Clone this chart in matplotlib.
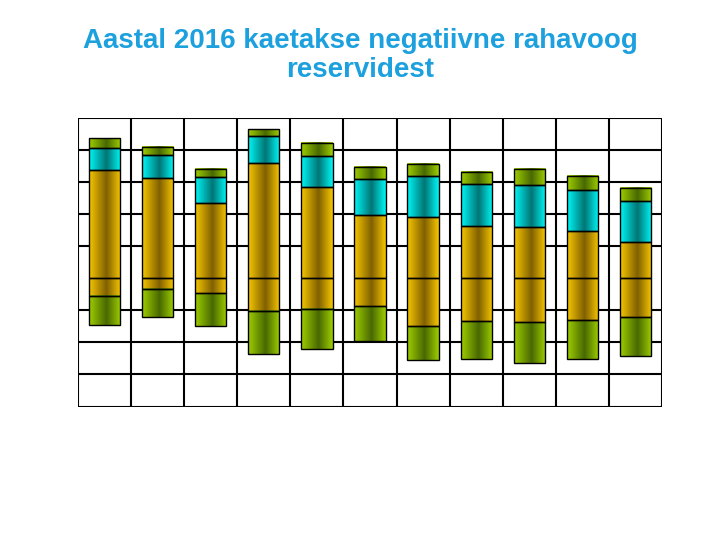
import numpy as np
import matplotlib
matplotlib.use("Agg")
import matplotlib.pyplot as plt
from matplotlib.colors import LinearSegmentedColormap
from matplotlib.patches import Rectangle

# Data (units of one gridline step, baseline = 0)
categories = list(range(1, 12))
orange_up = [3.37, 3.14, 2.36, 3.61, 2.86, 1.98, 1.92, 1.64, 1.61, 1.48, 1.14]
cyan_up = [0.71, 0.70, 0.81, 0.85, 0.96, 1.125, 1.27, 1.31, 1.31, 1.28, 1.28]
green_up = [0.31, 0.27, 0.25, 0.21, 0.42, 0.375, 0.39, 0.375, 0.50, 0.44, 0.41]
orange_down = [0.54, 0.33, 0.45, 1.01, 0.96, 0.875, 1.48, 1.33, 1.36, 1.30, 1.21]
green_down = [0.91, 0.875, 1.03, 1.35, 1.25, 1.09, 1.06, 1.18, 1.28, 1.21, 1.21]

title = "Aastal 2016 kaetakse negatiivne rahavoog\nreservidest"

palettes = {
    "orange": ("#F6C600", "#806000"),
    "cyan": ("#00F6F6", "#007575"),
    "green": ("#9ECE00", "#486800"),
}

def make_cmap(bright, dark):
    return LinearSegmentedColormap.from_list(
        "c", [(0.0, bright), (0.55, dark), (1.0, bright)])

cmaps = {k: make_cmap(*v) for k, v in palettes.items()}
grad = np.linspace(0, 1, 64).reshape(1, -1)

fig = plt.figure(figsize=(7.2, 5.4), dpi=100)
ax = fig.add_axes([78 / 720, 1 - 406.5 / 540, 584 / 720, 288.2 / 540])
ax.set_xlim(0.5, 11.5)
ax.set_ylim(-4, 5)

# grid
for y in range(-4, 6):
    if y == 0:
        continue
    ax.axhline(y, color="black", lw=1.5, zorder=1)
for x in np.arange(0.5, 12.0, 1.0):
    ax.axvline(x, color="black", lw=1.5, zorder=1)

w = 0.59

def seg(xc, y0, y1, key):
    lo, hi = min(y0, y1), max(y0, y1)
    ax.imshow(grad, cmap=cmaps[key], aspect="auto", extent=[xc - w / 2, xc + w / 2, lo, hi],
              interpolation="bilinear", zorder=2)
    ax.add_patch(Rectangle((xc - w / 2, lo), w, hi - lo, fill=False, ec="black", lw=1.0, zorder=3))

for i, xc in enumerate(categories):
    a = orange_up[i]
    b = a + cyan_up[i]
    c = b + green_up[i]
    seg(xc, 0, a, "orange")
    seg(xc, a, b, "cyan")
    seg(xc, b, c, "green")
    d = -orange_down[i]
    e = d - green_down[i]
    seg(xc, 0, d, "orange")
    seg(xc, d, e, "green")

ax.set_xlim(0.5, 11.5)
ax.set_ylim(-4, 5)
ax.set_xticks([])
ax.set_yticks([])
for s in ax.spines.values():
    s.set_visible(False)

fig.text(0.5, 1 - 41 / 540, title.split("\n")[0], ha="center", va="center", fontsize=20,
         fontweight="bold", color="#1DA1DE", family=["Liberation Sans", "DejaVu Sans"])
fig.text(0.5, 1 - 70 / 540, title.split("\n")[1], ha="center", va="center", fontsize=20,
         fontweight="bold", color="#1DA1DE", family=["Liberation Sans", "DejaVu Sans"])

fig.savefig("out.png", dpi=100)
